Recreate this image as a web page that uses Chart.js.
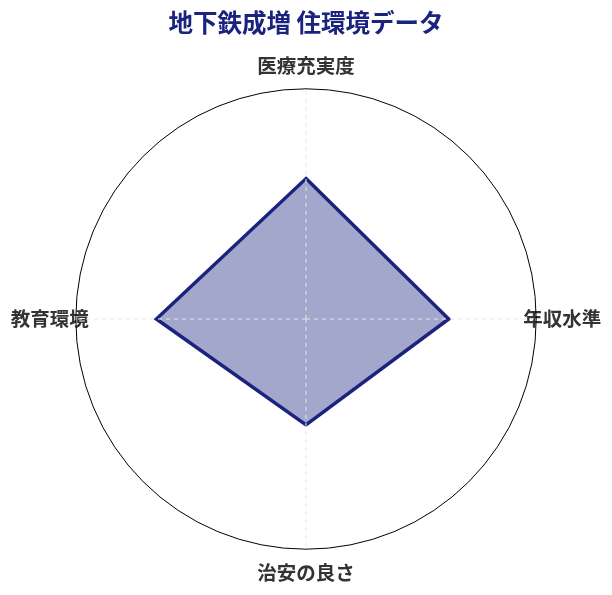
<!DOCTYPE html>
<html>
<head>
<meta charset="utf-8">
<script src="https://cdn.jsdelivr.net/npm/chart.js@4.4.1/dist/chart.umd.min.js"></script>
<style>
  html, body { margin: 0; padding: 0; background: #fff; }
  #wrap { width: 612px; height: 595px; }
</style>
</head>
<body>
<div id="wrap"><canvas id="chart"></canvas></div>
<script>
const chartTitle = '地下鉄成増 住環境データ';
const labels = ['医療充実度', '年収水準', '治安の良さ', '教育環境'];
const scores = [61, 62, 46, 65];
const scaleMax = 100;

// top/bottom labels sit outside the circle, left/right ones overlap it
const labelPadding = [12, -13, 12, -13];

const ctx = document.getElementById('chart').getContext('2d');

new Chart(ctx, {
    type: 'radar',
    data: {
        labels: labels,
        datasets: [{
            label: chartTitle,
            data: scores,
            borderColor: '#1a237e',
            backgroundColor: 'rgba(26, 35, 126, 0.4)',
            borderWidth: 3.5,
            pointRadius: 0,
            pointHoverRadius: 0,
            fill: true
        }]
    },
    options: {
        responsive: true,
        maintainAspectRatio: false,
        animation: false,
        layout: {
            padding: { top: 0, bottom: 9, left: 0, right: 0 }
        },
        plugins: {
            legend: { display: false },
            tooltip: { enabled: false },
            title: {
                display: true,
                text: chartTitle,
                color: '#1a237e',
                font: { family: '"Noto Sans CJK JP", sans-serif', size: 24.5, weight: 'bold' },
                padding: { top: 8, bottom: 16 }
            }
        },
        scales: {
            r: {
                min: 0,
                max: scaleMax,
                ticks: { display: false, stepSize: scaleMax },
                grid: {
                    z: 1,
                    circular: true,
                    color: '#000000',
                    lineWidth: 1
                },
                angleLines: {
                    color: '#e8e8e8',
                    lineWidth: 1,
                    borderDash: [4, 4]
                },
                pointLabels: {
                    color: '#333333',
                    padding: (c) => labelPadding[c.index],
                    font: { family: '"Noto Sans CJK JP", sans-serif', size: 19.5, weight: 'bold' }
                }
            }
        }
    }
});
</script>
</body>
</html>
